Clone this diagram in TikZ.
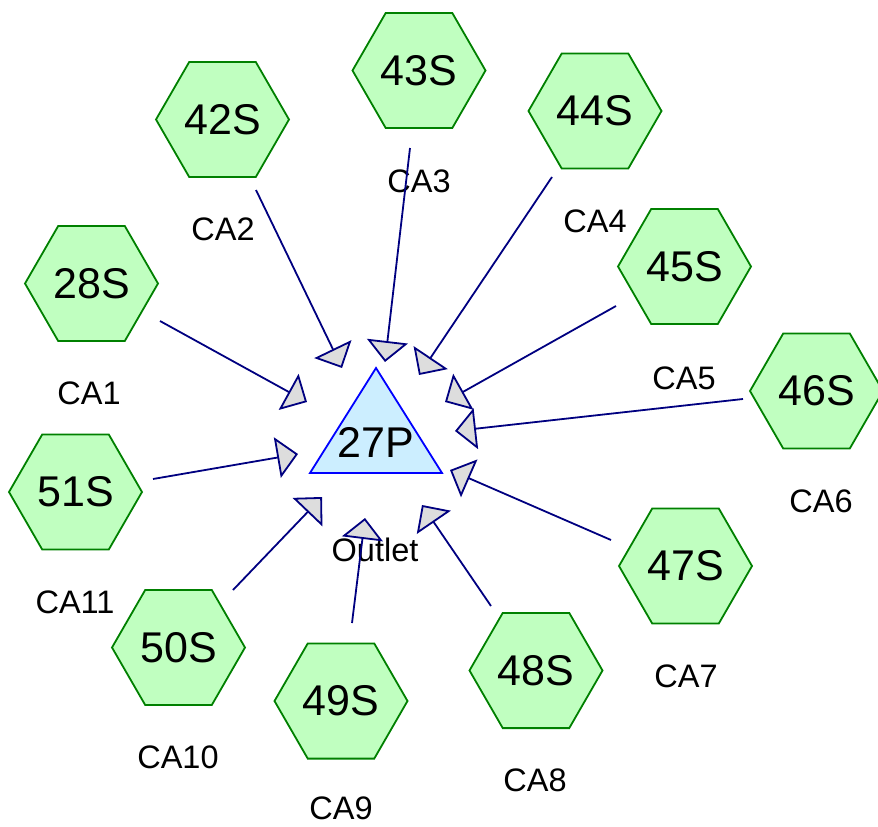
\documentclass[tikz,border=0pt]{standalone}
\usepackage{fontspec}
\setmainfont{Liberation Sans}
\usetikzlibrary{arrows.meta,shapes.geometric}
\definecolor{hexfill}{RGB}{192,255,192}
\definecolor{hexline}{RGB}{0,128,0}
\definecolor{trifill}{RGB}{204,238,255}
\definecolor{trline}{RGB}{0,0,255}
\definecolor{edgecol}{RGB}{0,0,128}
\definecolor{headfill}{RGB}{221,221,221}
\begin{document}
\begin{tikzpicture}[x=1pt,y=-1pt,
  hexnode/.style={regular polygon, regular polygon sides=6, minimum size=133pt, inner sep=0pt,
    draw=hexline, fill=hexfill, line width=1.8pt, font=\fontsize{43}{50}\selectfont},
  lbl/.style={font=\fontsize{32.5}{38}\selectfont, inner sep=0pt},
  feed/.style={draw=edgecol, line width=1.8pt, line join=miter,
    -{Triangle[length=21pt,width=41pt,fill=headfill]}},
  trishape/.style={draw=trline, fill=trifill, line width=1.8pt}]
\useasboundingbox (0,0) rectangle (878,827);
\clip (0,0) rectangle (878,827);

% central triangle
\coordinate (ta) at (376,368);
\coordinate (tr) at (442,473);
\coordinate (tl) at (310,473);
\draw[trishape] (ta) -- (tr) -- (tl) -- cycle;
\node[font=\fontsize{43}{50}\selectfont, inner sep=0pt] (p27) at (376,442) {27P};
\node[lbl] (outlet) at (375,550) {Outlet};

% hexagons
\node[hexnode] (h28) at (91.5,283.5) {28S};
\node[hexnode] (h42) at (222.5,119.5) {42S};
\node[hexnode] (h43) at (419,70.5) {43S};
\node[hexnode] (h44) at (595,111) {44S};
\node[hexnode] (h45) at (684.5,266.5) {45S};
\node[hexnode] (h46) at (816.5,391) {46S};
\node[hexnode] (h47) at (685.5,566) {47S};
\node[hexnode] (h48) at (536,670.5) {48S};
\node[hexnode] (h49) at (341,701) {49S};
\node[hexnode] (h50) at (178.5,647.5) {50S};
\node[hexnode] (h51) at (75.5,492) {51S};

% labels
\node[lbl] (ca1) at (89,393) {CA1};
\node[lbl] (ca2) at (223,229.5) {CA2};
\node[lbl] (ca3) at (419,181) {CA3};
\node[lbl] (ca4) at (595,221.5) {CA4};
\node[lbl] (ca5) at (684,378.5) {CA5};
\node[lbl] (ca6) at (821,501.5) {CA6};
\node[lbl] (ca7) at (686,676.5) {CA7};
\node[lbl] (ca8) at (535,780.5) {CA8};
\node[lbl] (ca9) at (341,808) {CA9};
\node[lbl] (ca10) at (178,757.5) {CA10};
\node[lbl] (ca11) at (75,602.5) {CA11};

% connector end points
\coordinate (s28) at (160,321);  \coordinate (t28) at (307,402);
\coordinate (s42) at (256,190);  \coordinate (t42) at (342,368);
\coordinate (s43) at (410,148);  \coordinate (t43) at (385,362);
\coordinate (s44) at (552,177);  \coordinate (t44) at (419,375);
\coordinate (s45) at (616,306);  \coordinate (t45) at (445,402);
\coordinate (s46) at (743,399);  \coordinate (t46) at (455,431);
\coordinate (s47) at (611,540);  \coordinate (t47) at (450,470);
\coordinate (s48) at (491,606);  \coordinate (t48) at (422,505);
\coordinate (s49) at (352,623);  \coordinate (t49) at (365,518);
\coordinate (s50) at (233,590);  \coordinate (t50) at (322,497);
\coordinate (s51) at (153,479);  \coordinate (t51) at (298,454);

\foreach \k in {28,42,43,44,45,46,47,48,49,50,51}
  \draw[feed] (s\k) -- (t\k);
\end{tikzpicture}
\end{document}
